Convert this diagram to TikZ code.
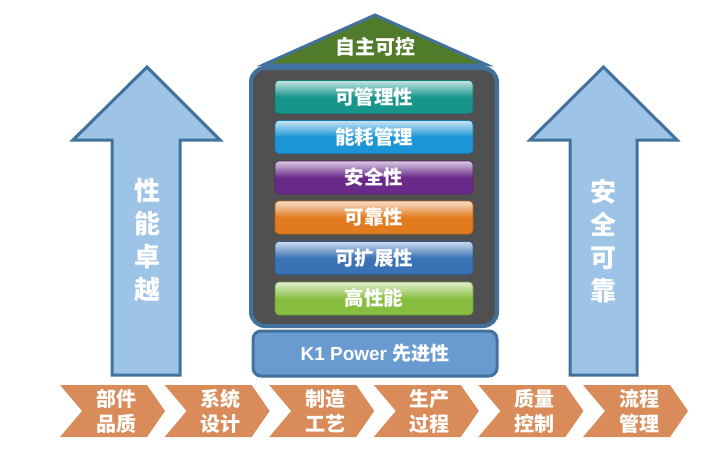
\documentclass[tikz,border=0pt]{standalone}
\usepackage{fontspec}
\setmainfont{Liberation Sans}
\newfontfamily\cjk{Noto Sans CJK SC}
\definecolor{edgeblue}{HTML}{41719C}
\definecolor{arrowfill}{HTML}{9DC3E6}
\definecolor{roofgreen}{HTML}{4F7B2A}
\definecolor{panelgray}{HTML}{505050}
\definecolor{basefill}{HTML}{6A9BD0}
\definecolor{chev}{HTML}{D98C5A}
\definecolor{cteal}{HTML}{17958A}
\definecolor{cblue}{HTML}{1C95D6}
\definecolor{cpurple}{HTML}{6A2A8A}
\definecolor{corange}{HTML}{E27A1E}
\definecolor{csteel}{HTML}{3A72B5}
\definecolor{cgreen}{HTML}{88BE40}
\begin{document}
\begin{tikzpicture}[x=1pt,y=-1pt,
  bigarrow/.style={draw=edgeblue, line width=3pt, fill=arrowfill, line join=miter},
  arrowtext/.style={text=white, align=center, font=\cjk\bfseries\fontsize{26}{33}\selectfont},
  bar/.style={rounded corners=4pt, minimum width=198pt, minimum height=33pt,
    top color=#1!25!white, bottom color=#1, middle color=#1, draw=#1!80!black, line width=0.6pt,
    text=white, font=\cjk\bfseries\fontsize{19.5}{22}\selectfont, inner sep=0pt},
  chevtext/.style={text=white, align=center, font=\cjk\bfseries\fontsize{20}{25}\selectfont}]
\useasboundingbox (0,0) rectangle (718,460);
% side arrows
\draw[bigarrow] (147,67) -- (220,140) -- (180,140) -- (180,375) -- (112,375) -- (112,140) -- (73,140) -- cycle;
\node[arrowtext] (lt) at (147,240) {性\\能\\卓\\越};
\draw[bigarrow] (603.5,67) -- (677,140) -- (637,140) -- (637,375) -- (570,375) -- (570,140) -- (530,140) -- cycle;
\node[arrowtext] (rt) at (603.5,241) {安\\全\\可\\靠};
% roof
\draw[draw=edgeblue, line width=3pt, fill=roofgreen, line join=miter] (375,15) -- (487,65) -- (263,65) -- cycle;
\node[text=white, font=\cjk\bfseries\fontsize{20}{22}\selectfont] (roof) at (375,47) {自主可控};
% panel
\node[draw=edgeblue, line width=4pt, fill=panelgray, rounded corners=14pt,
  minimum width=246pt, minimum height=258pt] (panel) at (374,197) {};
\node[bar=cteal] (b1) at (374,97) {可管理性};
\node[bar=cblue] (b2) at (374,137) {能耗管理};
\node[bar=cpurple] (b3) at (374,177.5) {安全性};
\node[bar=corange] (b4) at (374,217.5) {可靠性};
\node[bar=csteel] (b5) at (374,258) {可扩展性};
\node[bar=cgreen] (b6) at (374,298.5) {高性能};
% base
\node[draw=edgeblue, line width=3pt, fill=basefill, rounded corners=8pt,
  minimum width=244pt, minimum height=45pt, text=white,
  font=\bfseries\fontsize{19}{22}\selectfont] (base) at (375,353.5) {K1 Power {\cjk\bfseries 先进性}};
% chevrons
\foreach \i/\a/\b in {0/部件/品质,1/系统/设计,2/制造/工艺,3/生产/过程,4/质量/控制,5/流程/管理}{
  \pgfmathsetmacro{\xo}{60+104.6*\i}
  \fill[chev] (\xo,385) -- (\xo+87,385) -- (\xo+105,411) -- (\xo+87,437) -- (\xo,437) -- (\xo+22,411) -- cycle;
  \node[chevtext] (c\i) at (\xo+56,411.5) {\a\\\b};
}
\end{tikzpicture}
\end{document}
